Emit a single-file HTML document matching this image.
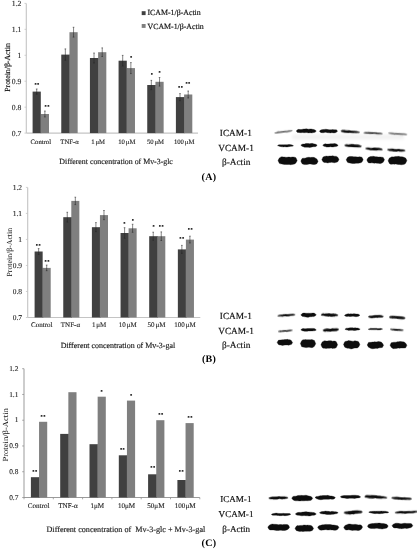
<!DOCTYPE html>
<html><head><meta charset="utf-8"><title>Figure</title>
<style>html,body{margin:0;padding:0;background:#fff}svg{display:block}text{text-rendering:geometricPrecision}.b{stroke:#111;stroke-width:.16px}</style></head>
<body>
<svg width="417" height="550" viewBox="0 0 417 550">
<defs>
<filter id="b2" x="-20%" y="-100%" width="140%" height="300%"><feGaussianBlur stdDeviation="0.3"/></filter>
<filter id="haze" x="-10%" y="-100%" width="120%" height="300%"><feGaussianBlur stdDeviation="1.6"/></filter>
<filter id="soft" x="0" y="0" width="100%" height="100%"><feGaussianBlur stdDeviation="0.3"/></filter>
</defs>
<rect width="417" height="550" fill="#fff"/>
<g filter="url(#soft)">
<line x1="26.3" y1="3.4" x2="26.3" y2="133.1" stroke="#c4c4c4" stroke-width="1.1"/>
<line x1="26.3" y1="133.1" x2="198" y2="133.1" stroke="#c4c4c4" stroke-width="1.1"/>
<line x1="24.5" y1="3.40" x2="26.3" y2="3.40" stroke="#c4c4c4" stroke-width="0.8"/>
<text x="21.40" y="5.90" font-size="7.7" text-anchor="end" font-family="Liberation Serif, serif" fill="#222" stroke="#222" stroke-width="0.1">1.2</text>
<line x1="24.5" y1="29.34" x2="26.3" y2="29.34" stroke="#c4c4c4" stroke-width="0.8"/>
<text x="21.40" y="31.84" font-size="7.7" text-anchor="end" font-family="Liberation Serif, serif" fill="#222" stroke="#222" stroke-width="0.1">1.1</text>
<line x1="24.5" y1="55.28" x2="26.3" y2="55.28" stroke="#c4c4c4" stroke-width="0.8"/>
<text x="21.40" y="57.78" font-size="7.7" text-anchor="end" font-family="Liberation Serif, serif" fill="#222" stroke="#222" stroke-width="0.1">1</text>
<line x1="24.5" y1="81.22" x2="26.3" y2="81.22" stroke="#c4c4c4" stroke-width="0.8"/>
<text x="21.40" y="83.72" font-size="7.7" text-anchor="end" font-family="Liberation Serif, serif" fill="#222" stroke="#222" stroke-width="0.1">0.9</text>
<line x1="24.5" y1="107.16" x2="26.3" y2="107.16" stroke="#c4c4c4" stroke-width="0.8"/>
<text x="21.40" y="109.66" font-size="7.7" text-anchor="end" font-family="Liberation Serif, serif" fill="#222" stroke="#222" stroke-width="0.1">0.8</text>
<line x1="24.5" y1="133.10" x2="26.3" y2="133.10" stroke="#c4c4c4" stroke-width="0.8"/>
<text x="21.40" y="135.60" font-size="7.7" text-anchor="end" font-family="Liberation Serif, serif" fill="#222" stroke="#222" stroke-width="0.1">0.7</text>
<rect x="32.60" y="91.60" width="8.20" height="41.50" fill="#404040"/>
<rect x="40.60" y="114.00" width="0.9" height="19.10" fill="#404040"/>
<rect x="40.80" y="114.00" width="8.20" height="19.10" fill="#7f7f7f"/>
<path d="M36.70 89.00V94.20M35.90 89.00h1.6M35.90 94.20h1.6" stroke="#222" stroke-width="0.55" fill="none"/>
<path d="M44.90 111.00V117.00M44.10 111.00h1.6M44.10 117.00h1.6" stroke="#222" stroke-width="0.55" fill="none"/>
<text x="40.83" y="143.8" font-size="6.7" text-anchor="middle" word-spacing="-0.8" font-family="Liberation Serif, serif" fill="#222" stroke="#222" stroke-width="0.12">Control</text>
<rect x="61.26" y="54.60" width="8.20" height="78.50" fill="#404040"/>
<rect x="69.26" y="54.60" width="0.9" height="78.50" fill="#404040"/>
<rect x="69.46" y="32.20" width="8.20" height="100.90" fill="#7f7f7f"/>
<path d="M65.36 48.90V60.30M64.56 48.90h1.6M64.56 60.30h1.6" stroke="#222" stroke-width="0.55" fill="none"/>
<path d="M73.56 27.30V37.10M72.76 27.30h1.6M72.76 37.10h1.6" stroke="#222" stroke-width="0.55" fill="none"/>
<text x="69.49" y="143.8" font-size="6.7" text-anchor="middle" word-spacing="-0.8" font-family="Liberation Serif, serif" fill="#222" stroke="#222" stroke-width="0.12">TNF-α</text>
<rect x="89.92" y="58.00" width="8.20" height="75.10" fill="#404040"/>
<rect x="97.92" y="58.00" width="0.9" height="75.10" fill="#404040"/>
<rect x="98.12" y="52.20" width="8.20" height="80.90" fill="#7f7f7f"/>
<path d="M94.02 53.00V63.00M93.22 53.00h1.6M93.22 63.00h1.6" stroke="#222" stroke-width="0.55" fill="none"/>
<path d="M102.22 47.90V56.50M101.42 47.90h1.6M101.42 56.50h1.6" stroke="#222" stroke-width="0.55" fill="none"/>
<text x="98.15" y="143.8" font-size="6.7" text-anchor="middle" word-spacing="-0.8" font-family="Liberation Serif, serif" fill="#222" stroke="#222" stroke-width="0.12">1 μM</text>
<rect x="118.58" y="60.70" width="8.20" height="72.40" fill="#404040"/>
<rect x="126.58" y="68.10" width="0.9" height="65.00" fill="#404040"/>
<rect x="126.78" y="68.10" width="8.20" height="65.00" fill="#7f7f7f"/>
<path d="M122.68 55.40V66.00M121.88 55.40h1.6M121.88 66.00h1.6" stroke="#222" stroke-width="0.55" fill="none"/>
<path d="M130.88 62.60V73.60M130.08 62.60h1.6M130.08 73.60h1.6" stroke="#222" stroke-width="0.55" fill="none"/>
<text x="126.81" y="143.8" font-size="6.7" text-anchor="middle" word-spacing="-0.8" font-family="Liberation Serif, serif" fill="#222" stroke="#222" stroke-width="0.12">10 μM</text>
<rect x="147.24" y="85.00" width="8.20" height="48.10" fill="#404040"/>
<rect x="155.24" y="85.00" width="0.9" height="48.10" fill="#404040"/>
<rect x="155.44" y="81.80" width="8.20" height="51.30" fill="#7f7f7f"/>
<path d="M151.34 80.40V89.60M150.54 80.40h1.6M150.54 89.60h1.6" stroke="#222" stroke-width="0.55" fill="none"/>
<path d="M159.54 77.50V86.10M158.74 77.50h1.6M158.74 86.10h1.6" stroke="#222" stroke-width="0.55" fill="none"/>
<text x="155.47" y="143.8" font-size="6.7" text-anchor="middle" word-spacing="-0.8" font-family="Liberation Serif, serif" fill="#222" stroke="#222" stroke-width="0.12">50 μM</text>
<rect x="175.90" y="97.10" width="8.20" height="36.00" fill="#404040"/>
<rect x="183.90" y="97.10" width="0.9" height="36.00" fill="#404040"/>
<rect x="184.10" y="94.50" width="8.20" height="38.60" fill="#7f7f7f"/>
<path d="M180.00 93.60V100.60M179.20 93.60h1.6M179.20 100.60h1.6" stroke="#222" stroke-width="0.55" fill="none"/>
<path d="M188.20 91.00V98.00M187.40 91.00h1.6M187.40 98.00h1.6" stroke="#222" stroke-width="0.55" fill="none"/>
<text x="184.13" y="143.8" font-size="6.7" text-anchor="middle" word-spacing="-0.8" font-family="Liberation Serif, serif" fill="#222" stroke="#222" stroke-width="0.12">100 μM</text>
<text x="37.10" y="86.30" font-size="4.4" letter-spacing="0.5" text-anchor="middle" font-family="Liberation Serif, serif" fill="#000" stroke="#000" stroke-width="0.2">**</text>
<text x="47.20" y="107.90" font-size="4.4" letter-spacing="0.5" text-anchor="middle" font-family="Liberation Serif, serif" fill="#000" stroke="#000" stroke-width="0.2">**</text>
<text x="131.30" y="59.40" font-size="4.4" letter-spacing="0.5" text-anchor="middle" font-family="Liberation Serif, serif" fill="#000" stroke="#000" stroke-width="0.2">*</text>
<text x="152.20" y="76.30" font-size="4.4" letter-spacing="0.5" text-anchor="middle" font-family="Liberation Serif, serif" fill="#000" stroke="#000" stroke-width="0.2">*</text>
<text x="159.80" y="73.70" font-size="4.4" letter-spacing="0.5" text-anchor="middle" font-family="Liberation Serif, serif" fill="#000" stroke="#000" stroke-width="0.2">*</text>
<text x="180.70" y="88.90" font-size="4.4" letter-spacing="0.5" text-anchor="middle" font-family="Liberation Serif, serif" fill="#000" stroke="#000" stroke-width="0.2">**</text>
<text x="188.10" y="84.90" font-size="4.4" letter-spacing="0.5" text-anchor="middle" font-family="Liberation Serif, serif" fill="#000" stroke="#000" stroke-width="0.2">**</text>
<text x="59.3" y="164" font-size="7.86" font-family="Liberation Serif, serif" fill="#1a1a1a" stroke="#1a1a1a" stroke-width="0.15" xml:space="preserve">Different concentration of Mv-3-glc</text>
<text transform="translate(10.4 67.5) rotate(-90)" font-size="7.8" text-anchor="middle" class="b"  font-family="Liberation Serif, serif" fill="#111">Protein/β-Actin</text>
<rect x="141.7" y="11.2" width="3.9" height="3.9" fill="#404040"/>
<text x="147.5" y="15.3" font-size="7.85" class="b" font-family="Liberation Serif, serif" fill="#111">ICAM-1/β-Actin</text>
<rect x="141.7" y="24" width="3.9" height="3.9" fill="#7f7f7f"/>
<text x="147.5" y="28.5" font-size="7.85" class="b" font-family="Liberation Serif, serif" fill="#111">VCAM-1/β-Actin</text>
<line x1="27.7" y1="187.4" x2="27.7" y2="317.5" stroke="#c4c4c4" stroke-width="1.1"/>
<line x1="27.7" y1="317.5" x2="200.3" y2="317.5" stroke="#c4c4c4" stroke-width="1.1"/>
<line x1="25.9" y1="187.40" x2="27.7" y2="187.40" stroke="#c4c4c4" stroke-width="0.8"/>
<text x="22.10" y="189.80" font-size="7.5" text-anchor="end" font-family="Liberation Serif, serif" fill="#222" stroke="#222" stroke-width="0.1">1.2</text>
<line x1="25.9" y1="213.42" x2="27.7" y2="213.42" stroke="#c4c4c4" stroke-width="0.8"/>
<text x="22.10" y="215.82" font-size="7.5" text-anchor="end" font-family="Liberation Serif, serif" fill="#222" stroke="#222" stroke-width="0.1">1.1</text>
<line x1="25.9" y1="239.44" x2="27.7" y2="239.44" stroke="#c4c4c4" stroke-width="0.8"/>
<text x="22.10" y="241.84" font-size="7.5" text-anchor="end" font-family="Liberation Serif, serif" fill="#222" stroke="#222" stroke-width="0.1">1</text>
<line x1="25.9" y1="265.46" x2="27.7" y2="265.46" stroke="#c4c4c4" stroke-width="0.8"/>
<text x="22.10" y="267.86" font-size="7.5" text-anchor="end" font-family="Liberation Serif, serif" fill="#222" stroke="#222" stroke-width="0.1">0.9</text>
<line x1="25.9" y1="291.48" x2="27.7" y2="291.48" stroke="#c4c4c4" stroke-width="0.8"/>
<text x="22.10" y="293.88" font-size="7.5" text-anchor="end" font-family="Liberation Serif, serif" fill="#222" stroke="#222" stroke-width="0.1">0.8</text>
<line x1="25.9" y1="317.50" x2="27.7" y2="317.50" stroke="#c4c4c4" stroke-width="0.8"/>
<text x="22.10" y="319.90" font-size="7.5" text-anchor="end" font-family="Liberation Serif, serif" fill="#222" stroke="#222" stroke-width="0.1">0.7</text>
<rect x="34.60" y="251.50" width="8.05" height="66.00" fill="#404040"/>
<rect x="42.45" y="267.90" width="0.9" height="49.60" fill="#404040"/>
<rect x="42.65" y="267.90" width="8.05" height="49.60" fill="#7f7f7f"/>
<path d="M38.62 248.60V254.40M37.83 248.60h1.6M37.83 254.40h1.6" stroke="#222" stroke-width="0.55" fill="none"/>
<path d="M46.68 265.10V270.70M45.88 265.10h1.6M45.88 270.70h1.6" stroke="#222" stroke-width="0.55" fill="none"/>
<text x="41.82" y="326.8" font-size="7.0" text-anchor="middle" word-spacing="-0.8" font-family="Liberation Serif, serif" fill="#222" stroke="#222" stroke-width="0.12">Control</text>
<rect x="63.25" y="217.20" width="8.05" height="100.30" fill="#404040"/>
<rect x="71.10" y="217.20" width="0.9" height="100.30" fill="#404040"/>
<rect x="71.30" y="200.90" width="8.05" height="116.60" fill="#7f7f7f"/>
<path d="M67.28 212.30V222.10M66.48 212.30h1.6M66.48 222.10h1.6" stroke="#222" stroke-width="0.55" fill="none"/>
<path d="M75.33 197.20V204.60M74.53 197.20h1.6M74.53 204.60h1.6" stroke="#222" stroke-width="0.55" fill="none"/>
<text x="70.47" y="326.8" font-size="7.0" text-anchor="middle" word-spacing="-0.8" font-family="Liberation Serif, serif" fill="#222" stroke="#222" stroke-width="0.12">TNF-α</text>
<rect x="91.90" y="227.20" width="8.05" height="90.30" fill="#404040"/>
<rect x="99.75" y="227.20" width="0.9" height="90.30" fill="#404040"/>
<rect x="99.95" y="215.10" width="8.05" height="102.40" fill="#7f7f7f"/>
<path d="M95.92 222.60V231.80M95.12 222.60h1.6M95.12 231.80h1.6" stroke="#222" stroke-width="0.55" fill="none"/>
<path d="M103.97 210.50V219.70M103.17 210.50h1.6M103.17 219.70h1.6" stroke="#222" stroke-width="0.55" fill="none"/>
<text x="99.12" y="326.8" font-size="7.0" text-anchor="middle" word-spacing="-0.8" font-family="Liberation Serif, serif" fill="#222" stroke="#222" stroke-width="0.12">1 μM</text>
<rect x="120.55" y="233.00" width="8.05" height="84.50" fill="#404040"/>
<rect x="128.40" y="233.00" width="0.9" height="84.50" fill="#404040"/>
<rect x="128.60" y="228.30" width="8.05" height="89.20" fill="#7f7f7f"/>
<path d="M124.58 227.70V238.30M123.78 227.70h1.6M123.78 238.30h1.6" stroke="#222" stroke-width="0.55" fill="none"/>
<path d="M132.62 224.30V232.30M131.82 224.30h1.6M131.82 232.30h1.6" stroke="#222" stroke-width="0.55" fill="none"/>
<text x="127.77" y="326.8" font-size="7.0" text-anchor="middle" word-spacing="-0.8" font-family="Liberation Serif, serif" fill="#222" stroke="#222" stroke-width="0.12">10 μM</text>
<rect x="149.20" y="236.20" width="8.05" height="81.30" fill="#404040"/>
<rect x="157.05" y="236.20" width="0.9" height="81.30" fill="#404040"/>
<rect x="157.25" y="236.20" width="8.05" height="81.30" fill="#7f7f7f"/>
<path d="M153.22 232.20V240.20M152.42 232.20h1.6M152.42 240.20h1.6" stroke="#222" stroke-width="0.55" fill="none"/>
<path d="M161.27 231.90V240.50M160.47 231.90h1.6M160.47 240.50h1.6" stroke="#222" stroke-width="0.55" fill="none"/>
<text x="156.42" y="326.8" font-size="7.0" text-anchor="middle" word-spacing="-0.8" font-family="Liberation Serif, serif" fill="#222" stroke="#222" stroke-width="0.12">50 μM</text>
<rect x="177.85" y="249.40" width="8.05" height="68.10" fill="#404040"/>
<rect x="185.70" y="249.40" width="0.9" height="68.10" fill="#404040"/>
<rect x="185.90" y="239.60" width="8.05" height="77.90" fill="#7f7f7f"/>
<path d="M181.88 245.40V253.40M181.07 245.40h1.6M181.07 253.40h1.6" stroke="#222" stroke-width="0.55" fill="none"/>
<path d="M189.92 236.20V243.00M189.12 236.20h1.6M189.12 243.00h1.6" stroke="#222" stroke-width="0.55" fill="none"/>
<text x="185.07" y="326.8" font-size="7.0" text-anchor="middle" word-spacing="-0.8" font-family="Liberation Serif, serif" fill="#222" stroke="#222" stroke-width="0.12">100 μM</text>
<text x="38.50" y="246.90" font-size="4.4" letter-spacing="0.5" text-anchor="middle" font-family="Liberation Serif, serif" fill="#000" stroke="#000" stroke-width="0.2">**</text>
<text x="47.20" y="262.70" font-size="4.4" letter-spacing="0.5" text-anchor="middle" font-family="Liberation Serif, serif" fill="#000" stroke="#000" stroke-width="0.2">**</text>
<text x="124.70" y="224.90" font-size="4.4" letter-spacing="0.5" text-anchor="middle" font-family="Liberation Serif, serif" fill="#000" stroke="#000" stroke-width="0.2">*</text>
<text x="133.20" y="221.80" font-size="4.4" letter-spacing="0.5" text-anchor="middle" font-family="Liberation Serif, serif" fill="#000" stroke="#000" stroke-width="0.2">*</text>
<text x="153.80" y="227.60" font-size="4.4" letter-spacing="0.5" text-anchor="middle" font-family="Liberation Serif, serif" fill="#000" stroke="#000" stroke-width="0.2">*</text>
<text x="161.40" y="227.60" font-size="4.4" letter-spacing="0.5" text-anchor="middle" font-family="Liberation Serif, serif" fill="#000" stroke="#000" stroke-width="0.2">**</text>
<text x="182.00" y="239.70" font-size="4.4" letter-spacing="0.5" text-anchor="middle" font-family="Liberation Serif, serif" fill="#000" stroke="#000" stroke-width="0.2">**</text>
<text x="190.40" y="231.00" font-size="4.4" letter-spacing="0.5" text-anchor="middle" font-family="Liberation Serif, serif" fill="#000" stroke="#000" stroke-width="0.2">**</text>
<text x="60.7" y="348.3" font-size="7.93" font-family="Liberation Serif, serif" fill="#1a1a1a" stroke="#1a1a1a" stroke-width="0.15" xml:space="preserve">Different concentration of Mv-3-gal</text>
<text transform="translate(11.5 252.2) rotate(-90)" font-size="7.8" text-anchor="middle"   font-family="Liberation Serif, serif" fill="#111">Protein/β-Actin</text>
<line x1="24" y1="368.7" x2="24" y2="497.5" stroke="#909090" stroke-width="0.9"/>
<line x1="24" y1="497.5" x2="199.8" y2="497.5" stroke="#909090" stroke-width="0.9"/>
<line x1="22.2" y1="368.70" x2="24" y2="368.70" stroke="#909090" stroke-width="0.8"/>
<text x="18.40" y="370.80" font-size="7.4" text-anchor="end" font-family="Liberation Serif, serif" fill="#222" stroke="#222" stroke-width="0.1">1.2</text>
<line x1="22.2" y1="394.46" x2="24" y2="394.46" stroke="#909090" stroke-width="0.8"/>
<text x="18.40" y="396.56" font-size="7.4" text-anchor="end" font-family="Liberation Serif, serif" fill="#222" stroke="#222" stroke-width="0.1">1.1</text>
<line x1="22.2" y1="420.22" x2="24" y2="420.22" stroke="#909090" stroke-width="0.8"/>
<text x="18.40" y="422.32" font-size="7.4" text-anchor="end" font-family="Liberation Serif, serif" fill="#222" stroke="#222" stroke-width="0.1">1</text>
<line x1="22.2" y1="445.98" x2="24" y2="445.98" stroke="#909090" stroke-width="0.8"/>
<text x="18.40" y="448.08" font-size="7.4" text-anchor="end" font-family="Liberation Serif, serif" fill="#222" stroke="#222" stroke-width="0.1">0.9</text>
<line x1="22.2" y1="471.74" x2="24" y2="471.74" stroke="#909090" stroke-width="0.8"/>
<text x="18.40" y="473.84" font-size="7.4" text-anchor="end" font-family="Liberation Serif, serif" fill="#222" stroke="#222" stroke-width="0.1">0.8</text>
<line x1="22.2" y1="497.50" x2="24" y2="497.50" stroke="#909090" stroke-width="0.8"/>
<text x="18.40" y="499.60" font-size="7.4" text-anchor="end" font-family="Liberation Serif, serif" fill="#222" stroke="#222" stroke-width="0.1">0.7</text>
<line x1="24.00" y1="497.5" x2="24.00" y2="499.3" stroke="#909090" stroke-width="0.8"/>
<line x1="53.30" y1="497.5" x2="53.30" y2="499.3" stroke="#909090" stroke-width="0.8"/>
<line x1="82.60" y1="497.5" x2="82.60" y2="499.3" stroke="#909090" stroke-width="0.8"/>
<line x1="111.90" y1="497.5" x2="111.90" y2="499.3" stroke="#909090" stroke-width="0.8"/>
<line x1="141.20" y1="497.5" x2="141.20" y2="499.3" stroke="#909090" stroke-width="0.8"/>
<line x1="170.50" y1="497.5" x2="170.50" y2="499.3" stroke="#909090" stroke-width="0.8"/>
<line x1="199.80" y1="497.5" x2="199.80" y2="499.3" stroke="#909090" stroke-width="0.8"/>
<rect x="30.90" y="477.20" width="8.15" height="20.30" fill="#404040"/>
<rect x="38.85" y="477.20" width="0.9" height="20.30" fill="#404040"/>
<rect x="39.05" y="421.80" width="8.15" height="75.70" fill="#7f7f7f"/>
<text x="38.65" y="507.7" font-size="7.1" text-anchor="middle" word-spacing="-0.8" font-family="Liberation Serif, serif" fill="#222" stroke="#222" stroke-width="0.12">Control</text>
<rect x="60.20" y="433.90" width="8.15" height="63.60" fill="#404040"/>
<rect x="68.15" y="433.90" width="0.9" height="63.60" fill="#404040"/>
<rect x="68.35" y="392.20" width="8.15" height="105.30" fill="#7f7f7f"/>
<text x="67.95" y="507.7" font-size="7.1" text-anchor="middle" word-spacing="-0.8" font-family="Liberation Serif, serif" fill="#222" stroke="#222" stroke-width="0.12">TNF-α</text>
<rect x="89.50" y="444.20" width="8.15" height="53.30" fill="#404040"/>
<rect x="97.45" y="444.20" width="0.9" height="53.30" fill="#404040"/>
<rect x="97.65" y="396.70" width="8.15" height="100.80" fill="#7f7f7f"/>
<text x="97.25" y="507.7" font-size="7.1" text-anchor="middle" word-spacing="-0.8" font-family="Liberation Serif, serif" fill="#222" stroke="#222" stroke-width="0.12">1μM</text>
<rect x="118.80" y="455.30" width="8.15" height="42.20" fill="#404040"/>
<rect x="126.75" y="455.30" width="0.9" height="42.20" fill="#404040"/>
<rect x="126.95" y="400.60" width="8.15" height="96.90" fill="#7f7f7f"/>
<text x="126.55" y="507.7" font-size="7.1" text-anchor="middle" word-spacing="-0.8" font-family="Liberation Serif, serif" fill="#222" stroke="#222" stroke-width="0.12">10μM</text>
<rect x="148.10" y="474.30" width="8.15" height="23.20" fill="#404040"/>
<rect x="156.05" y="474.30" width="0.9" height="23.20" fill="#404040"/>
<rect x="156.25" y="420.20" width="8.15" height="77.30" fill="#7f7f7f"/>
<text x="155.85" y="507.7" font-size="7.1" text-anchor="middle" word-spacing="-0.8" font-family="Liberation Serif, serif" fill="#222" stroke="#222" stroke-width="0.12">50μM</text>
<rect x="177.40" y="480.00" width="8.15" height="17.50" fill="#404040"/>
<rect x="185.35" y="480.00" width="0.9" height="17.50" fill="#404040"/>
<rect x="185.55" y="423.10" width="8.15" height="74.40" fill="#7f7f7f"/>
<text x="185.15" y="507.7" font-size="7.1" text-anchor="middle" word-spacing="-0.8" font-family="Liberation Serif, serif" fill="#222" stroke="#222" stroke-width="0.12">100μM</text>
<text x="35.00" y="473.00" font-size="4.4" letter-spacing="0.5" text-anchor="middle" font-family="Liberation Serif, serif" fill="#000" stroke="#000" stroke-width="0.2">**</text>
<text x="43.20" y="418.10" font-size="4.4" letter-spacing="0.5" text-anchor="middle" font-family="Liberation Serif, serif" fill="#000" stroke="#000" stroke-width="0.2">**</text>
<text x="101.80" y="393.00" font-size="4.4" letter-spacing="0.5" text-anchor="middle" font-family="Liberation Serif, serif" fill="#000" stroke="#000" stroke-width="0.2">*</text>
<text x="122.60" y="451.10" font-size="4.4" letter-spacing="0.5" text-anchor="middle" font-family="Liberation Serif, serif" fill="#000" stroke="#000" stroke-width="0.2">**</text>
<text x="131.30" y="396.50" font-size="4.4" letter-spacing="0.5" text-anchor="middle" font-family="Liberation Serif, serif" fill="#000" stroke="#000" stroke-width="0.2">*</text>
<text x="153.00" y="468.50" font-size="4.4" letter-spacing="0.5" text-anchor="middle" font-family="Liberation Serif, serif" fill="#000" stroke="#000" stroke-width="0.2">**</text>
<text x="160.90" y="416.30" font-size="4.4" letter-spacing="0.5" text-anchor="middle" font-family="Liberation Serif, serif" fill="#000" stroke="#000" stroke-width="0.2">**</text>
<text x="181.50" y="473.00" font-size="4.4" letter-spacing="0.5" text-anchor="middle" font-family="Liberation Serif, serif" fill="#000" stroke="#000" stroke-width="0.2">**</text>
<text x="190.20" y="419.40" font-size="4.4" letter-spacing="0.5" text-anchor="middle" font-family="Liberation Serif, serif" fill="#000" stroke="#000" stroke-width="0.2">**</text>
<text x="46.5" y="532.0" font-size="8.13" font-family="Liberation Serif, serif" fill="#1a1a1a" stroke="#1a1a1a" stroke-width="0.15" xml:space="preserve">Different concentration of  Mv-3-glc + Mv-3-gal</text>
<text transform="translate(7.5 434.9) rotate(-90)" font-size="7.8" text-anchor="middle"  textLength="53.4" lengthAdjust="spacingAndGlyphs" font-family="Liberation Serif, serif" fill="#111">Protein/β-Actin</text>
<text x="201.6" y="179.9" font-size="10" font-weight="bold" letter-spacing="0.3" font-family="Liberation Serif, serif" fill="#000">(A)</text>
<text x="201.9" y="361.9" font-size="10" font-weight="bold" letter-spacing="0.3" font-family="Liberation Serif, serif" fill="#000">(B)</text>
<text x="201.6" y="546.1" font-size="10" font-weight="bold" letter-spacing="0.3" font-family="Liberation Serif, serif" fill="#000">(C)</text>
<text x="235.8" y="136.0" font-size="9.3" text-anchor="middle" class="b" font-family="Liberation Serif, serif" fill="#111">ICAM-1</text>
<text x="236" y="150.7" font-size="9.3" text-anchor="middle" class="b" font-family="Liberation Serif, serif" fill="#111">VCAM-1</text>
<text x="236.2" y="165.3" font-size="9.3" text-anchor="middle" class="b" font-family="Liberation Serif, serif" fill="#111">β-Actin</text>
<text x="235.8" y="319" font-size="9.3" text-anchor="middle" class="b" font-family="Liberation Serif, serif" fill="#111">ICAM-1</text>
<text x="236" y="333.5" font-size="9.3" text-anchor="middle" class="b" font-family="Liberation Serif, serif" fill="#111">VCAM-1</text>
<text x="236.2" y="348.2" font-size="9.3" text-anchor="middle" class="b" font-family="Liberation Serif, serif" fill="#111">β-Actin</text>
<text x="235.8" y="502.1" font-size="9.1" text-anchor="middle" class="b" font-family="Liberation Serif, serif" fill="#111">ICAM-1</text>
<text x="236" y="517.3" font-size="9.1" text-anchor="middle" class="b" font-family="Liberation Serif, serif" fill="#111">VCAM-1</text>
<text x="236.2" y="531.5" font-size="9.1" text-anchor="middle" class="b" font-family="Liberation Serif, serif" fill="#111">β-Actin</text>
<rect x="292" y="134.5" width="112" height="5" fill="#000" opacity="0.05" filter="url(#haze)"/>
<path d="M274.40 131.92 L275.61 131.42 L276.83 131.16 L278.04 130.84 L279.25 130.91 L280.47 131.06 L281.68 131.01 L282.89 131.05 L284.11 130.97 L285.32 130.96 L286.53 131.22 L287.75 131.22 L288.96 131.09 L290.17 131.13 L291.39 131.17 L292.60 131.74 L292.60 131.74 L291.39 132.24 L290.17 132.48 L288.96 132.57 L287.75 132.72 L286.53 132.73 L285.32 132.56 L284.11 132.53 L282.89 132.48 L281.68 132.47 L280.47 132.57 L279.25 132.49 L278.04 132.42 L276.83 132.48 L275.61 132.38 L274.40 131.92Z" fill="#707070" opacity="1" stroke="#707070" stroke-width="0.3" stroke-linejoin="round" transform="rotate(-7 283.5 131.8)" filter="url(#b2)"/>
<path d="M296.20 130.99 L297.46 129.68 L298.71 129.36 L299.97 129.49 L301.23 129.61 L302.48 129.25 L303.74 129.00 L304.99 128.94 L306.25 128.84 L307.51 129.03 L308.76 129.18 L310.02 128.96 L311.27 128.98 L312.53 129.30 L313.79 129.52 L315.04 129.94 L316.30 131.11 L316.30 131.11 L315.04 132.33 L313.79 132.51 L312.53 132.83 L311.27 132.88 L310.02 132.78 L308.76 132.88 L307.51 132.76 L306.25 132.59 L304.99 132.75 L303.74 132.73 L302.48 132.58 L301.23 132.71 L299.97 132.67 L298.71 132.51 L297.46 132.41 L296.20 130.99Z" fill="#0a0a0a" opacity="1" stroke="#0a0a0a" stroke-width="0.3" stroke-linejoin="round" transform="rotate(0 306.2 130.9)" filter="url(#b2)"/>
<path d="M319.40 131.16 L320.61 129.95 L321.83 129.68 L323.04 129.54 L324.25 129.38 L325.47 129.21 L326.68 129.33 L327.89 129.60 L329.11 129.74 L330.32 129.77 L331.53 129.68 L332.75 129.62 L333.96 129.75 L335.17 129.80 L336.39 129.86 L337.60 130.99 L337.60 130.99 L336.39 132.36 L335.17 132.75 L333.96 132.96 L332.75 132.78 L331.53 132.78 L330.32 132.96 L329.11 132.83 L327.89 132.72 L326.68 132.56 L325.47 132.37 L324.25 132.62 L323.04 132.79 L321.83 132.63 L320.61 132.44 L319.40 131.16Z" fill="#0a0a0a" opacity="1" stroke="#0a0a0a" stroke-width="0.3" stroke-linejoin="round" transform="rotate(0 328.5 131.1)" filter="url(#b2)"/>
<path d="M340.70 131.69 L341.98 130.69 L343.26 130.42 L344.54 130.49 L345.82 130.66 L347.10 130.63 L348.38 130.53 L349.66 130.53 L350.94 130.63 L352.22 130.78 L353.50 130.79 L354.78 130.66 L356.06 130.71 L357.34 130.90 L358.62 131.20 L359.90 131.74 L359.90 131.74 L358.62 132.14 L357.34 132.26 L356.06 132.46 L354.78 132.56 L353.50 132.66 L352.22 132.82 L350.94 132.81 L349.66 132.84 L348.38 132.94 L347.10 132.91 L345.82 132.95 L344.54 132.94 L343.26 132.71 L341.98 132.51 L340.70 131.69Z" fill="#111" opacity="1" stroke="#111" stroke-width="0.3" stroke-linejoin="round" transform="rotate(4 350.3 131.7)" filter="url(#b2)"/>
<path d="M363.50 133.32 L364.78 132.73 L366.06 132.57 L367.34 132.42 L368.62 132.20 L369.90 132.31 L371.18 132.35 L372.46 132.24 L373.74 132.30 L375.02 132.23 L376.30 132.25 L377.58 132.50 L378.86 132.48 L380.14 132.48 L381.42 132.69 L382.70 133.17 L382.70 133.17 L381.42 133.70 L380.14 133.80 L378.86 133.95 L377.58 134.11 L376.30 133.97 L375.02 133.81 L373.74 133.84 L372.46 133.90 L371.18 134.07 L369.90 134.11 L368.62 133.91 L367.34 133.89 L366.06 133.91 L364.78 133.78 L363.50 133.32Z" fill="#4a4a4a" opacity="1" stroke="#4a4a4a" stroke-width="0.3" stroke-linejoin="round" transform="rotate(3 373.1 133.2)" filter="url(#b2)"/>
<path d="M388.10 133.86 L389.38 133.22 L390.66 133.12 L391.94 132.99 L393.22 133.10 L394.50 133.25 L395.78 133.10 L397.06 133.08 L398.34 133.05 L399.62 132.93 L400.90 133.05 L402.18 133.00 L403.46 132.88 L404.74 133.08 L406.02 133.31 L407.30 133.90 L407.30 133.90 L406.02 134.41 L404.74 134.49 L403.46 134.57 L402.18 134.78 L400.90 134.81 L399.62 134.77 L398.34 134.79 L397.06 134.78 L395.78 134.87 L394.50 134.93 L393.22 134.77 L391.94 134.63 L390.66 134.53 L389.38 134.33 L388.10 133.86Z" fill="#808080" opacity="1" stroke="#808080" stroke-width="0.3" stroke-linejoin="round" transform="rotate(4 397.7 133.9)" filter="url(#b2)"/>
<path d="M277.50 145.68 L278.73 144.85 L279.96 144.83 L281.19 144.86 L282.42 144.77 L283.65 144.80 L284.88 144.66 L286.12 144.72 L287.35 144.64 L288.58 144.51 L289.81 144.61 L291.04 144.69 L292.27 145.09 L293.50 145.72 L293.50 145.72 L292.27 146.37 L291.04 146.25 L289.81 146.47 L288.58 146.71 L287.35 146.90 L286.12 146.96 L284.88 146.73 L283.65 146.90 L282.42 146.85 L281.19 146.67 L279.96 146.39 L278.73 146.06 L277.50 145.68Z" fill="#0a0a0a" opacity="1" stroke="#0a0a0a" stroke-width="0.3" stroke-linejoin="round" transform="rotate(0 285.5 145.7)" filter="url(#b2)"/>
<path d="M300.80 145.22 L302.06 144.16 L303.32 144.06 L304.58 143.91 L305.85 143.43 L307.11 143.47 L308.37 143.50 L309.63 143.64 L310.89 143.54 L312.15 143.34 L313.42 143.75 L314.68 144.00 L315.94 144.37 L317.20 145.35 L317.20 145.35 L315.94 146.50 L314.68 146.70 L313.42 146.75 L312.15 146.90 L310.89 147.31 L309.63 147.38 L308.37 147.29 L307.11 147.17 L305.85 147.15 L304.58 147.15 L303.32 146.72 L302.06 146.24 L300.80 145.22Z" fill="#0a0a0a" opacity="1" stroke="#0a0a0a" stroke-width="0.3" stroke-linejoin="round" transform="rotate(0 309.0 145.3)" filter="url(#b2)"/>
<path d="M322.70 145.31 L323.99 144.14 L325.28 143.85 L326.57 144.07 L327.87 144.08 L329.16 143.88 L330.45 143.78 L331.74 143.76 L333.03 143.77 L334.32 143.55 L335.62 143.76 L336.91 144.24 L338.20 145.48 L338.20 145.48 L336.91 146.36 L335.62 146.62 L334.32 146.73 L333.03 147.03 L331.74 146.89 L330.45 146.76 L329.16 146.92 L327.87 147.05 L326.57 147.05 L325.28 146.57 L323.99 146.37 L322.70 145.31Z" fill="#0a0a0a" opacity="1" stroke="#0a0a0a" stroke-width="0.3" stroke-linejoin="round" transform="rotate(0 330.4 145.4)" filter="url(#b2)"/>
<path d="M344.40 145.85 L345.64 145.00 L346.87 144.76 L348.11 144.88 L349.34 144.63 L350.58 144.38 L351.81 144.24 L353.05 144.17 L354.29 144.47 L355.52 144.46 L356.76 144.39 L357.99 144.62 L359.23 144.81 L360.46 145.21 L361.70 145.86 L361.70 145.86 L360.46 146.65 L359.23 146.86 L357.99 146.88 L356.76 146.90 L355.52 147.04 L354.29 147.12 L353.05 147.08 L351.81 146.98 L350.58 146.95 L349.34 147.04 L348.11 147.03 L346.87 146.81 L345.64 146.52 L344.40 145.85Z" fill="#0a0a0a" opacity="1" stroke="#0a0a0a" stroke-width="0.3" stroke-linejoin="round" transform="rotate(3 353.0 145.8)" filter="url(#b2)"/>
<path d="M365.30 148.95 L366.54 148.28 L367.79 148.01 L369.03 148.01 L370.27 148.16 L371.51 148.13 L372.76 147.97 L374.00 147.73 L375.24 147.67 L376.49 147.80 L377.73 147.80 L378.97 147.80 L380.21 147.95 L381.46 148.31 L382.70 149.16 L382.70 149.16 L381.46 149.73 L380.21 149.83 L378.97 149.78 L377.73 150.03 L376.49 150.16 L375.24 150.16 L374.00 150.22 L372.76 150.14 L371.51 150.28 L370.27 150.31 L369.03 150.04 L367.79 149.85 L366.54 149.58 L365.30 148.95Z" fill="#0a0a0a" opacity="1" stroke="#0a0a0a" stroke-width="0.3" stroke-linejoin="round" transform="rotate(3 374.0 149.0)" filter="url(#b2)"/>
<path d="M387.20 150.09 L388.41 149.51 L389.63 149.39 L390.84 149.16 L392.05 148.95 L393.27 149.08 L394.48 149.22 L395.69 149.20 L396.91 149.13 L398.12 148.94 L399.33 148.94 L400.55 149.17 L401.76 149.22 L402.97 149.27 L404.19 149.45 L405.40 150.18 L405.40 150.18 L404.19 150.79 L402.97 151.05 L401.76 151.13 L400.55 151.23 L399.33 151.19 L398.12 151.12 L396.91 151.40 L395.69 151.59 L394.48 151.56 L393.27 151.50 L392.05 151.26 L390.84 151.15 L389.63 151.18 L388.41 150.84 L387.20 150.09Z" fill="#0a0a0a" opacity="1" stroke="#0a0a0a" stroke-width="0.3" stroke-linejoin="round" transform="rotate(3 396.3 150.2)" filter="url(#b2)"/>
<path d="M278.00 160.50 L279.28 158.09 L280.56 157.13 L281.84 156.66 L283.12 156.94 L284.40 157.00 L285.68 157.16 L286.96 157.34 L288.24 157.03 L289.52 157.12 L290.80 157.28 L292.08 156.96 L293.36 157.01 L294.64 157.16 L295.92 157.66 L297.20 160.62 L297.20 160.62 L295.92 162.99 L294.64 163.90 L293.36 164.24 L292.08 164.45 L290.80 164.75 L289.52 164.51 L288.24 164.43 L286.96 164.59 L285.68 164.39 L284.40 164.41 L283.12 164.34 L281.84 163.93 L280.56 163.85 L279.28 163.34 L278.00 160.50Z" fill="#0a0a0a" opacity="1" stroke="#0a0a0a" stroke-width="0.3" stroke-linejoin="round" transform="rotate(0 287.6 160.7)" filter="url(#b2)"/>
<path d="M300.80 161.11 L302.04 158.53 L303.27 158.21 L304.51 158.17 L305.74 157.93 L306.98 157.56 L308.21 157.26 L309.45 157.32 L310.69 157.42 L311.92 157.33 L313.16 157.32 L314.39 157.56 L315.63 158.18 L316.86 159.01 L318.10 161.25 L318.10 161.25 L316.86 163.72 L315.63 164.24 L314.39 164.48 L313.16 164.43 L311.92 164.34 L310.69 164.12 L309.45 164.04 L308.21 164.26 L306.98 164.41 L305.74 164.57 L304.51 164.55 L303.27 164.24 L302.04 163.66 L300.80 161.11Z" fill="#0a0a0a" opacity="1" stroke="#0a0a0a" stroke-width="0.3" stroke-linejoin="round" transform="rotate(0 309.5 161.0)" filter="url(#b2)"/>
<path d="M321.80 159.63 L323.03 157.05 L324.26 156.62 L325.49 156.19 L326.71 156.06 L327.94 156.31 L329.17 156.03 L330.40 155.99 L331.63 155.91 L332.86 155.78 L334.09 156.20 L335.31 156.21 L336.54 156.39 L337.77 157.15 L339.00 159.45 L339.00 159.45 L337.77 161.85 L336.54 162.23 L335.31 162.56 L334.09 162.84 L332.86 162.38 L331.63 162.29 L330.40 162.39 L329.17 162.55 L327.94 162.99 L326.71 162.71 L325.49 162.50 L324.26 162.48 L323.03 161.83 L321.80 159.63Z" fill="#0a0a0a" opacity="1" stroke="#0a0a0a" stroke-width="0.3" stroke-linejoin="round" transform="rotate(0 330.4 159.3)" filter="url(#b2)"/>
<path d="M346.20 159.76 L347.41 157.57 L348.63 156.83 L349.84 156.45 L351.06 156.44 L352.27 156.57 L353.49 156.73 L354.70 156.85 L355.91 156.86 L357.13 156.91 L358.34 156.90 L359.56 156.82 L360.77 156.91 L361.99 157.32 L363.20 159.75 L363.20 159.75 L361.99 162.07 L360.77 162.73 L359.56 162.97 L358.34 163.16 L357.13 163.18 L355.91 163.21 L354.70 163.43 L353.49 163.47 L352.27 163.43 L351.06 163.27 L349.84 162.98 L348.63 162.78 L347.41 162.21 L346.20 159.76Z" fill="#0a0a0a" opacity="1" stroke="#0a0a0a" stroke-width="0.3" stroke-linejoin="round" transform="rotate(0 354.7 159.9)" filter="url(#b2)"/>
<path d="M366.80 159.98 L368.06 157.74 L369.33 156.94 L370.59 156.56 L371.86 156.42 L373.12 156.26 L374.39 156.52 L375.65 156.75 L376.91 156.84 L378.18 157.02 L379.44 156.90 L380.71 156.97 L381.97 157.17 L383.24 157.43 L384.50 159.76 L384.50 159.76 L383.24 162.18 L381.97 162.98 L380.71 163.57 L379.44 163.47 L378.18 163.30 L376.91 163.18 L375.65 163.05 L374.39 163.22 L373.12 163.03 L371.86 162.87 L370.59 163.03 L369.33 162.93 L368.06 162.59 L366.80 159.98Z" fill="#0a0a0a" opacity="1" stroke="#0a0a0a" stroke-width="0.3" stroke-linejoin="round" transform="rotate(0 375.6 159.9)" filter="url(#b2)"/>
<path d="M388.10 160.69 L389.35 158.06 L390.61 157.40 L391.86 156.86 L393.11 156.88 L394.37 156.73 L395.62 156.40 L396.87 156.45 L398.13 156.33 L399.38 156.39 L400.63 156.81 L401.89 156.80 L403.14 156.94 L404.39 157.44 L405.65 158.00 L406.90 160.55 L406.90 160.55 L405.65 163.36 L404.39 164.22 L403.14 164.46 L401.89 164.82 L400.63 164.70 L399.38 164.39 L398.13 164.42 L396.87 164.15 L395.62 164.04 L394.37 164.25 L393.11 164.12 L391.86 164.17 L390.61 164.18 L389.35 163.40 L388.10 160.69Z" fill="#0a0a0a" opacity="1" stroke="#0a0a0a" stroke-width="0.3" stroke-linejoin="round" transform="rotate(0 397.5 160.6)" filter="url(#b2)"/>
<path d="M277.50 315.28 L278.77 314.69 L280.04 314.47 L281.31 314.54 L282.59 314.38 L283.86 314.20 L285.13 314.19 L286.40 314.23 L287.67 314.48 L288.94 314.51 L290.21 314.38 L291.49 314.48 L292.76 314.58 L294.03 314.77 L295.30 315.22 L295.30 315.22 L294.03 315.79 L292.76 315.97 L291.49 315.97 L290.21 316.06 L288.94 316.33 L287.67 316.33 L286.40 316.22 L285.13 316.08 L283.86 316.01 L282.59 316.15 L281.31 316.06 L280.04 315.84 L278.77 315.72 L277.50 315.28Z" fill="#0a0a0a" opacity="1" stroke="#0a0a0a" stroke-width="0.3" stroke-linejoin="round" transform="rotate(-4 286.4 315.2)" filter="url(#b2)"/>
<path d="M300.80 314.91 L302.09 313.57 L303.38 313.10 L304.68 313.08 L305.97 313.21 L307.26 313.28 L308.55 313.16 L309.84 313.26 L311.13 313.17 L312.43 313.12 L313.72 313.09 L315.01 313.50 L316.30 315.00 L316.30 315.00 L315.01 316.01 L313.72 316.62 L312.43 316.62 L311.13 316.74 L309.84 316.80 L308.55 317.20 L307.26 317.33 L305.97 316.99 L304.68 316.86 L303.38 316.53 L302.09 316.29 L300.80 314.91Z" fill="#0a0a0a" opacity="1" stroke="#0a0a0a" stroke-width="0.3" stroke-linejoin="round" transform="rotate(0 308.6 315.0)" filter="url(#b2)"/>
<path d="M320.90 315.13 L322.14 314.10 L323.37 313.80 L324.61 313.93 L325.84 313.74 L327.08 313.64 L328.31 313.58 L329.55 313.53 L330.79 313.81 L332.02 313.74 L333.26 313.62 L334.49 313.76 L335.73 313.85 L336.96 314.25 L338.20 315.00 L338.20 315.00 L336.96 315.71 L335.73 315.87 L334.49 316.26 L333.26 316.36 L332.02 316.50 L330.79 316.51 L329.55 316.33 L328.31 316.49 L327.08 316.37 L325.84 316.18 L324.61 316.10 L323.37 315.83 L322.14 315.78 L320.90 315.13Z" fill="#0a0a0a" opacity="1" stroke="#0a0a0a" stroke-width="0.3" stroke-linejoin="round" transform="rotate(2 329.5 315.0)" filter="url(#b2)"/>
<path d="M344.40 315.40 L345.69 314.38 L346.98 314.11 L348.27 313.77 L349.57 313.90 L350.86 313.87 L352.15 313.92 L353.44 313.79 L354.73 313.87 L356.02 314.06 L357.32 314.06 L358.61 314.32 L359.90 315.19 L359.90 315.19 L358.61 316.14 L357.32 316.44 L356.02 316.76 L354.73 316.47 L353.44 316.36 L352.15 316.30 L350.86 316.53 L349.57 316.50 L348.27 316.36 L346.98 316.46 L345.69 316.26 L344.40 315.40Z" fill="#0a0a0a" opacity="1" stroke="#0a0a0a" stroke-width="0.3" stroke-linejoin="round" transform="rotate(0 352.1 315.2)" filter="url(#b2)"/>
<path d="M368.10 316.67 L369.39 315.76 L370.68 315.63 L371.98 315.65 L373.27 315.49 L374.56 315.25 L375.85 315.13 L377.14 315.33 L378.43 315.31 L379.73 315.36 L381.02 315.51 L382.31 315.94 L383.60 316.72 L383.60 316.72 L382.31 317.48 L381.02 317.57 L379.73 317.60 L378.43 317.62 L377.14 317.75 L375.85 317.52 L374.56 317.69 L373.27 317.76 L371.98 317.93 L370.68 317.65 L369.39 317.34 L368.10 316.67Z" fill="#0a0a0a" opacity="1" stroke="#0a0a0a" stroke-width="0.3" stroke-linejoin="round" transform="rotate(-2 375.9 316.6)" filter="url(#b2)"/>
<path d="M389.00 317.70 L390.26 316.73 L391.52 316.56 L392.78 316.33 L394.05 316.34 L395.31 316.23 L396.57 316.17 L397.83 316.23 L399.09 316.16 L400.35 316.33 L401.62 316.37 L402.88 316.50 L404.14 316.80 L405.40 317.50 L405.40 317.50 L404.14 318.40 L402.88 318.63 L401.62 318.84 L400.35 318.80 L399.09 318.74 L397.83 318.64 L396.57 318.54 L395.31 318.61 L394.05 318.60 L392.78 318.67 L391.52 318.61 L390.26 318.39 L389.00 317.70Z" fill="#0a0a0a" opacity="1" stroke="#0a0a0a" stroke-width="0.3" stroke-linejoin="round" transform="rotate(4 397.2 317.5)" filter="url(#b2)"/>
<path d="M278.00 331.00 L279.22 330.40 L280.43 330.34 L281.65 330.40 L282.87 330.27 L284.08 330.22 L285.30 330.29 L286.52 330.47 L287.73 330.38 L288.95 330.28 L290.17 330.35 L291.38 330.54 L292.60 330.92 L292.60 330.92 L291.38 331.37 L290.17 331.41 L288.95 331.59 L287.73 331.69 L286.52 331.79 L285.30 331.51 L284.08 331.53 L282.87 331.54 L281.65 331.57 L280.43 331.40 L279.22 331.25 L278.00 331.00Z" fill="#1a1a1a" opacity="1" stroke="#1a1a1a" stroke-width="0.3" stroke-linejoin="round" transform="rotate(-5 285.3 331.0)" filter="url(#b2)"/>
<path d="M300.80 329.78 L302.09 328.80 L303.38 328.59 L304.68 328.63 L305.97 328.69 L307.26 328.62 L308.55 328.49 L309.84 328.48 L311.13 328.40 L312.43 328.38 L313.72 328.46 L315.01 328.86 L316.30 329.94 L316.30 329.94 L315.01 330.69 L313.72 330.84 L312.43 330.94 L311.13 330.94 L309.84 331.07 L308.55 330.97 L307.26 331.28 L305.97 331.29 L304.68 331.30 L303.38 330.97 L302.09 330.65 L300.80 329.78Z" fill="#0a0a0a" opacity="1" stroke="#0a0a0a" stroke-width="0.3" stroke-linejoin="round" transform="rotate(0 308.6 329.8)" filter="url(#b2)"/>
<path d="M322.70 329.98 L323.95 329.11 L325.21 328.80 L326.46 328.38 L327.72 328.60 L328.97 328.80 L330.22 328.89 L331.48 328.84 L332.73 328.62 L333.98 328.87 L335.24 328.82 L336.49 328.77 L337.75 328.91 L339.00 329.84 L339.00 329.84 L337.75 330.73 L336.49 331.16 L335.24 331.25 L333.98 331.31 L332.73 331.15 L331.48 331.37 L330.22 331.53 L328.97 331.37 L327.72 331.31 L326.46 331.10 L325.21 331.17 L323.95 330.89 L322.70 329.98Z" fill="#0a0a0a" opacity="1" stroke="#0a0a0a" stroke-width="0.3" stroke-linejoin="round" transform="rotate(-3 330.9 330.0)" filter="url(#b2)"/>
<path d="M344.90 329.30 L346.17 328.24 L347.45 328.13 L348.72 328.02 L350.00 327.87 L351.27 327.76 L352.55 327.71 L353.82 327.95 L355.10 327.81 L356.38 327.96 L357.65 328.02 L358.93 328.42 L360.20 329.14 L360.20 329.14 L358.93 329.97 L357.65 330.09 L356.38 330.20 L355.10 330.41 L353.82 330.45 L352.55 330.24 L351.27 330.26 L350.00 330.35 L348.72 330.39 L347.45 330.09 L346.17 329.85 L344.90 329.30Z" fill="#0a0a0a" opacity="1" stroke="#0a0a0a" stroke-width="0.3" stroke-linejoin="round" transform="rotate(0 352.5 329.1)" filter="url(#b2)"/>
<path d="M368.10 329.23 L369.32 328.63 L370.53 328.25 L371.75 328.28 L372.97 328.37 L374.18 328.29 L375.40 328.25 L376.62 328.29 L377.83 328.52 L379.05 328.41 L380.27 328.37 L381.48 328.47 L382.70 329.10 L382.70 329.10 L381.48 329.54 L380.27 329.89 L379.05 329.92 L377.83 330.01 L376.62 329.80 L375.40 329.83 L374.18 329.87 L372.97 329.81 L371.75 329.82 L370.53 329.69 L369.32 329.77 L368.10 329.23Z" fill="#222" opacity="1" stroke="#222" stroke-width="0.3" stroke-linejoin="round" transform="rotate(0 375.4 329.1)" filter="url(#b2)"/>
<path d="M390.00 329.67 L391.24 329.21 L392.47 329.30 L393.71 329.05 L394.95 328.97 L396.18 329.02 L397.42 329.08 L398.65 328.88 L399.89 328.90 L401.13 329.16 L402.36 329.35 L403.60 329.81 L403.60 329.81 L402.36 330.35 L401.13 330.40 L399.89 330.42 L398.65 330.55 L397.42 330.71 L396.18 330.66 L394.95 330.67 L393.71 330.60 L392.47 330.56 L391.24 330.21 L390.00 329.67Z" fill="#222" opacity="1" stroke="#222" stroke-width="0.3" stroke-linejoin="round" transform="rotate(4 396.8 329.8)" filter="url(#b2)"/>
<path d="M277.10 342.61 L278.39 340.30 L279.68 340.09 L280.98 339.90 L282.27 339.85 L283.56 339.73 L284.85 339.45 L286.14 339.57 L287.43 339.37 L288.73 339.69 L290.02 339.77 L291.31 340.53 L292.60 342.63 L292.60 342.63 L291.31 344.55 L290.02 344.76 L288.73 345.17 L287.43 344.97 L286.14 344.97 L284.85 345.04 L283.56 345.27 L282.27 345.41 L280.98 345.07 L279.68 345.03 L278.39 344.45 L277.10 342.61Z" fill="#0a0a0a" opacity="1" stroke="#0a0a0a" stroke-width="0.3" stroke-linejoin="round" transform="rotate(0 284.9 342.4)" filter="url(#b2)"/>
<path d="M300.40 343.46 L301.67 340.72 L302.95 339.80 L304.22 339.87 L305.50 339.61 L306.77 339.80 L308.05 339.63 L309.32 339.68 L310.60 339.73 L311.88 339.61 L313.15 340.02 L314.43 340.48 L315.70 343.71 L315.70 343.71 L314.43 346.35 L313.15 347.17 L311.88 347.65 L310.60 347.44 L309.32 347.34 L308.05 347.22 L306.77 347.62 L305.50 347.40 L304.22 347.25 L302.95 347.07 L301.67 346.67 L300.40 343.46Z" fill="#0a0a0a" opacity="1" stroke="#0a0a0a" stroke-width="0.3" stroke-linejoin="round" transform="rotate(0 308.0 343.6)" filter="url(#b2)"/>
<path d="M320.90 344.82 L322.18 342.00 L323.47 341.18 L324.75 340.67 L326.04 341.05 L327.32 341.07 L328.61 340.83 L329.89 340.70 L331.18 340.66 L332.46 341.16 L333.75 341.05 L335.03 341.08 L336.32 341.78 L337.60 344.64 L337.60 344.64 L336.32 347.45 L335.03 348.17 L333.75 348.30 L332.46 348.38 L331.18 347.96 L329.89 348.17 L328.61 348.27 L327.32 348.30 L326.04 348.45 L324.75 348.19 L323.47 348.27 L322.18 347.55 L320.90 344.82Z" fill="#0a0a0a" opacity="1" stroke="#0a0a0a" stroke-width="0.3" stroke-linejoin="round" transform="rotate(0 329.2 344.6)" filter="url(#b2)"/>
<path d="M343.50 344.39 L344.76 341.70 L346.02 341.18 L347.28 341.07 L348.55 340.54 L349.81 340.75 L351.07 340.88 L352.33 341.15 L353.59 341.13 L354.85 340.68 L356.12 341.03 L357.38 341.22 L358.64 341.86 L359.90 344.48 L359.90 344.48 L358.64 347.01 L357.38 347.88 L356.12 348.07 L354.85 347.99 L353.59 348.34 L352.33 348.65 L351.07 348.97 L349.81 348.58 L348.55 348.19 L347.28 348.17 L346.02 347.85 L344.76 347.16 L343.50 344.39Z" fill="#0a0a0a" opacity="1" stroke="#0a0a0a" stroke-width="0.3" stroke-linejoin="round" transform="rotate(0 351.7 344.6)" filter="url(#b2)"/>
<path d="M367.20 345.01 L368.46 342.42 L369.72 342.30 L370.98 342.36 L372.25 342.06 L373.51 341.99 L374.77 341.71 L376.03 341.96 L377.29 341.80 L378.55 341.47 L379.82 341.71 L381.08 342.02 L382.34 343.01 L383.60 345.24 L383.60 345.24 L382.34 347.49 L381.08 347.65 L379.82 347.81 L378.55 348.11 L377.29 348.45 L376.03 348.34 L374.77 348.40 L373.51 348.65 L372.25 348.76 L370.98 348.52 L369.72 347.77 L368.46 347.13 L367.20 345.01Z" fill="#0a0a0a" opacity="1" stroke="#0a0a0a" stroke-width="0.3" stroke-linejoin="round" transform="rotate(0 375.4 345.1)" filter="url(#b2)"/>
<path d="M390.00 345.18 L391.21 342.73 L392.41 342.52 L393.62 342.24 L394.83 342.14 L396.04 342.16 L397.24 341.74 L398.45 341.74 L399.66 341.61 L400.86 341.44 L402.07 341.78 L403.28 341.83 L404.49 342.28 L405.69 343.13 L406.90 345.31 L406.90 345.31 L405.69 347.82 L404.49 348.04 L403.28 348.10 L402.07 348.07 L400.86 348.00 L399.66 348.24 L398.45 348.11 L397.24 348.17 L396.04 348.52 L394.83 348.58 L393.62 348.67 L392.41 348.21 L391.21 347.31 L390.00 345.18Z" fill="#0a0a0a" opacity="1" stroke="#0a0a0a" stroke-width="0.3" stroke-linejoin="round" transform="rotate(0 398.4 345.1)" filter="url(#b2)"/>
<path d="M268.60 498.01 L269.83 497.30 L271.05 496.90 L272.28 496.76 L273.50 496.76 L274.73 496.76 L275.95 496.75 L277.18 496.64 L278.40 496.52 L279.62 496.59 L280.85 496.71 L282.07 496.74 L283.30 496.77 L284.52 496.79 L285.75 496.88 L286.97 497.19 L288.20 498.01 L288.20 498.01 L286.97 498.58 L285.75 498.81 L284.52 499.08 L283.30 499.10 L282.07 499.14 L280.85 499.07 L279.62 498.84 L278.40 498.98 L277.18 499.26 L275.95 499.24 L274.73 499.22 L273.50 499.14 L272.28 498.91 L271.05 498.91 L269.83 498.84 L268.60 498.01Z" fill="#0a0a0a" opacity="1" stroke="#0a0a0a" stroke-width="0.3" stroke-linejoin="round" transform="rotate(-1 278.4 497.9)" filter="url(#b2)"/>
<path d="M291.70 498.14 L292.94 496.47 L294.17 496.22 L295.41 496.21 L296.64 495.91 L297.88 495.51 L299.11 495.41 L300.35 495.38 L301.58 495.37 L302.82 495.48 L304.05 495.44 L305.29 495.23 L306.52 495.35 L307.76 495.72 L308.99 495.99 L310.23 496.32 L311.46 496.79 L312.70 498.27 L312.70 498.27 L311.46 500.11 L310.23 500.46 L308.99 500.62 L307.76 500.76 L306.52 500.70 L305.29 500.71 L304.05 500.86 L302.82 500.87 L301.58 500.83 L300.35 500.92 L299.11 500.91 L297.88 500.83 L296.64 500.87 L295.41 500.79 L294.17 500.41 L292.94 499.86 L291.70 498.14Z" fill="#0a0a0a" opacity="1" stroke="#0a0a0a" stroke-width="0.3" stroke-linejoin="round" transform="rotate(0 302.2 498.2)" filter="url(#b2)"/>
<path d="M315.00 497.46 L316.27 496.50 L317.55 496.40 L318.82 496.13 L320.10 495.76 L321.38 495.73 L322.65 495.60 L323.93 495.45 L325.20 495.56 L326.47 495.47 L327.75 495.37 L329.02 495.68 L330.30 495.89 L331.57 496.01 L332.85 496.37 L334.12 496.63 L335.40 497.59 L335.40 497.59 L334.12 498.88 L332.85 499.19 L331.57 499.14 L330.30 499.05 L329.02 499.21 L327.75 499.32 L326.47 499.29 L325.20 499.31 L323.93 499.31 L322.65 499.40 L321.38 499.68 L320.10 499.71 L318.82 499.43 L317.55 499.10 L316.27 498.58 L315.00 497.46Z" fill="#0a0a0a" opacity="1" stroke="#0a0a0a" stroke-width="0.3" stroke-linejoin="round" transform="rotate(0 325.2 497.6)" filter="url(#b2)"/>
<path d="M340.30 496.87 L341.57 495.89 L342.85 495.64 L344.12 495.56 L345.40 495.55 L346.68 495.54 L347.95 495.57 L349.23 495.56 L350.50 495.46 L351.77 495.34 L353.05 495.26 L354.32 495.20 L355.60 495.26 L356.88 495.40 L358.15 495.59 L359.43 495.98 L360.70 496.96 L360.70 496.96 L359.43 497.73 L358.15 497.88 L356.88 498.05 L355.60 498.37 L354.32 498.48 L353.05 498.32 L351.77 498.23 L350.50 498.21 L349.23 498.29 L347.95 498.49 L346.68 498.44 L345.40 498.18 L344.12 498.06 L342.85 497.95 L341.57 497.73 L340.30 496.87Z" fill="#0a0a0a" opacity="1" stroke="#0a0a0a" stroke-width="0.3" stroke-linejoin="round" transform="rotate(0 350.5 496.9)" filter="url(#b2)"/>
<path d="M364.50 497.17 L365.70 496.09 L366.90 495.76 L368.10 495.77 L369.30 495.78 L370.50 495.66 L371.70 495.57 L372.90 495.50 L374.10 495.39 L375.30 495.41 L376.50 495.62 L377.70 495.78 L378.90 495.77 L380.10 495.79 L381.30 495.89 L382.50 495.99 L383.70 496.11 L384.90 496.37 L386.10 496.63 L387.30 497.05 L387.30 497.05 L386.10 497.69 L384.90 497.80 L383.70 497.84 L382.50 497.99 L381.30 498.16 L380.10 498.25 L378.90 498.30 L377.70 498.31 L376.50 498.19 L375.30 498.10 L374.10 498.25 L372.90 498.50 L371.70 498.61 L370.50 498.58 L369.30 498.52 L368.10 498.34 L366.90 498.12 L365.70 497.95 L364.50 497.17Z" fill="#0a0a0a" opacity="1" stroke="#0a0a0a" stroke-width="0.3" stroke-linejoin="round" transform="rotate(3 375.9 497.0)" filter="url(#b2)"/>
<path d="M391.40 498.38 L392.61 497.74 L393.81 497.64 L395.02 497.47 L396.22 497.16 L397.43 497.15 L398.64 497.35 L399.84 497.43 L401.05 497.55 L402.25 497.62 L403.46 497.41 L404.66 497.31 L405.87 497.49 L407.08 497.54 L408.28 497.48 L409.49 497.57 L410.69 497.65 L411.90 498.27 L411.90 498.27 L410.69 499.00 L409.49 499.27 L408.28 499.28 L407.08 499.36 L405.87 499.47 L404.66 499.43 L403.46 499.53 L402.25 499.71 L401.05 499.65 L399.84 499.57 L398.64 499.64 L397.43 499.55 L396.22 499.42 L395.02 499.43 L393.81 499.26 L392.61 498.92 L391.40 498.38Z" fill="#0a0a0a" opacity="1" stroke="#0a0a0a" stroke-width="0.3" stroke-linejoin="round" transform="rotate(3 401.6 498.4)" filter="url(#b2)"/>
<path d="M271.30 514.46 L272.52 513.78 L273.74 513.60 L274.96 513.28 L276.18 513.11 L277.39 513.27 L278.61 513.41 L279.83 513.54 L281.05 513.62 L282.27 513.45 L283.49 513.36 L284.71 513.51 L285.93 513.53 L287.14 513.47 L288.36 513.50 L289.58 513.57 L290.80 514.28 L290.80 514.28 L289.58 514.90 L288.36 515.25 L287.14 515.50 L285.93 515.65 L284.71 515.65 L283.49 515.49 L282.27 515.49 L281.05 515.63 L279.83 515.63 L278.61 515.54 L277.39 515.40 L276.18 515.24 L274.96 515.28 L273.74 515.36 L272.52 515.14 L271.30 514.46Z" fill="#0a0a0a" opacity="1" stroke="#0a0a0a" stroke-width="0.3" stroke-linejoin="round" transform="rotate(0 281.1 514.5)" filter="url(#b2)"/>
<path d="M295.30 513.96 L296.54 513.00 L297.77 512.59 L299.01 512.37 L300.24 512.39 L301.48 512.30 L302.71 512.10 L303.95 511.96 L305.18 511.78 L306.42 511.70 L307.65 511.91 L308.89 512.11 L310.12 512.13 L311.36 512.21 L312.59 512.39 L313.83 512.62 L315.06 513.03 L316.30 513.98 L316.30 513.98 L315.06 514.97 L313.83 515.30 L312.59 515.35 L311.36 515.50 L310.12 515.88 L308.89 515.99 L307.65 515.84 L306.42 515.78 L305.18 515.66 L303.95 515.57 L302.71 515.76 L301.48 515.81 L300.24 515.53 L299.01 515.32 L297.77 515.20 L296.54 514.91 L295.30 513.96Z" fill="#0a0a0a" opacity="1" stroke="#0a0a0a" stroke-width="0.3" stroke-linejoin="round" transform="rotate(0 305.8 513.9)" filter="url(#b2)"/>
<path d="M319.40 512.77 L320.65 511.90 L321.91 511.59 L323.16 511.58 L324.41 511.32 L325.67 511.08 L326.92 511.27 L328.17 511.37 L329.43 511.52 L330.68 511.63 L331.93 511.37 L333.19 511.40 L334.44 511.64 L335.69 511.68 L336.95 511.92 L338.20 512.72 L338.20 512.72 L336.95 513.60 L335.69 513.78 L334.44 514.10 L333.19 514.31 L331.93 514.35 L330.68 514.57 L329.43 514.57 L328.17 514.48 L326.92 514.53 L325.67 514.30 L324.41 514.09 L323.16 514.05 L321.91 513.80 L320.65 513.60 L319.40 512.77Z" fill="#0a0a0a" opacity="1" stroke="#0a0a0a" stroke-width="0.3" stroke-linejoin="round" transform="rotate(0 328.8 512.9)" filter="url(#b2)"/>
<path d="M343.70 512.28 L344.96 511.38 L346.22 511.25 L347.48 511.14 L348.74 511.05 L350.00 511.09 L351.26 510.95 L352.52 510.79 L353.78 510.78 L355.04 510.68 L356.30 510.72 L357.56 510.87 L358.82 510.91 L360.08 511.19 L361.34 511.59 L362.60 512.45 L362.60 512.45 L361.34 513.35 L360.08 513.57 L358.82 513.51 L357.56 513.67 L356.30 513.73 L355.04 513.81 L353.78 514.13 L352.52 514.12 L351.26 514.08 L350.00 514.17 L348.74 513.97 L347.48 513.82 L346.22 513.62 L344.96 513.09 L343.70 512.28Z" fill="#0a0a0a" opacity="1" stroke="#0a0a0a" stroke-width="0.3" stroke-linejoin="round" transform="rotate(-3 353.1 512.4)" filter="url(#b2)"/>
<path d="M368.70 512.23 L369.96 511.49 L371.21 511.38 L372.47 511.32 L373.73 511.23 L374.98 511.26 L376.24 511.25 L377.49 511.16 L378.75 511.18 L380.01 511.19 L381.26 511.10 L382.52 511.13 L383.77 511.18 L385.03 511.18 L386.29 511.39 L387.54 511.66 L388.80 512.25 L388.80 512.25 L387.54 512.95 L386.29 513.08 L385.03 512.96 L383.77 513.14 L382.52 513.46 L381.26 513.55 L380.01 513.66 L378.75 513.64 L377.49 513.43 L376.24 513.52 L374.98 513.63 L373.73 513.41 L372.47 513.20 L371.21 512.98 L369.96 512.67 L368.70 512.23Z" fill="#0a0a0a" opacity="1" stroke="#0a0a0a" stroke-width="0.3" stroke-linejoin="round" transform="rotate(0 378.8 512.3)" filter="url(#b2)"/>
<path d="M394.80 512.15 L396.02 511.65 L397.24 511.46 L398.46 511.21 L399.68 510.98 L400.91 510.95 L402.13 511.06 L403.35 511.15 L404.57 511.21 L405.79 511.30 L407.01 511.29 L408.23 511.21 L409.45 511.26 L410.67 511.38 L411.89 511.38 L413.12 511.31 L414.34 511.30 L415.56 511.31 L416.78 511.39 L418.00 512.03 L418.00 512.03 L416.78 512.56 L415.56 512.87 L414.34 513.10 L413.12 513.20 L411.89 513.23 L410.67 513.18 L409.45 513.13 L408.23 513.19 L407.01 513.35 L405.79 513.44 L404.57 513.40 L403.35 513.28 L402.13 513.15 L400.91 513.05 L399.68 513.04 L398.46 513.08 L397.24 513.02 L396.02 512.76 L394.80 512.15Z" fill="#0a0a0a" opacity="1" stroke="#0a0a0a" stroke-width="0.3" stroke-linejoin="round" transform="rotate(-2 406.4 512.2)" filter="url(#b2)"/>
<path d="M267.80 527.19 L269.01 525.40 L270.22 524.78 L271.43 524.23 L272.64 524.07 L273.86 524.24 L275.07 524.27 L276.28 524.35 L277.49 524.60 L278.70 524.63 L279.91 524.47 L281.12 524.57 L282.33 524.68 L283.54 524.51 L284.76 524.41 L285.97 524.53 L287.18 524.61 L288.39 525.02 L289.60 527.17 L289.60 527.17 L288.39 528.98 L287.18 529.69 L285.97 530.19 L284.76 530.42 L283.54 530.50 L282.33 530.41 L281.12 530.23 L279.91 530.24 L278.70 530.44 L277.49 530.51 L276.28 530.41 L275.07 530.27 L273.86 530.10 L272.64 529.98 L271.43 530.01 L270.22 529.96 L269.01 529.39 L267.80 527.19Z" fill="#0a0a0a" opacity="1" stroke="#0a0a0a" stroke-width="0.3" stroke-linejoin="round" transform="rotate(0 278.7 527.4)" filter="url(#b2)"/>
<path d="M295.00 528.52 L296.24 526.25 L297.48 525.55 L298.72 525.63 L299.96 525.52 L301.20 525.39 L302.44 525.39 L303.68 525.04 L304.92 525.06 L306.16 525.29 L307.40 525.11 L308.64 525.19 L309.88 525.37 L311.12 525.54 L312.36 526.40 L313.60 528.56 L313.60 528.56 L312.36 530.44 L311.12 530.90 L309.88 531.29 L308.64 531.19 L307.40 531.23 L306.16 531.33 L304.92 531.17 L303.68 531.38 L302.44 531.49 L301.20 531.33 L299.96 531.43 L298.72 531.28 L297.48 530.90 L296.24 530.55 L295.00 528.52Z" fill="#0a0a0a" opacity="1" stroke="#0a0a0a" stroke-width="0.3" stroke-linejoin="round" transform="rotate(0 304.3 528.3)" filter="url(#b2)"/>
<path d="M317.60 527.37 L318.86 525.86 L320.12 525.56 L321.38 525.08 L322.64 524.78 L323.89 524.74 L325.15 524.48 L326.41 524.38 L327.67 524.61 L328.93 524.60 L330.19 524.53 L331.45 524.81 L332.71 524.98 L333.96 524.98 L335.22 525.28 L336.48 525.56 L337.74 525.73 L339.00 527.35 L339.00 527.35 L337.74 529.26 L336.48 530.04 L335.22 530.34 L333.96 530.14 L332.71 529.98 L331.45 529.94 L330.19 529.87 L328.93 529.93 L327.67 529.97 L326.41 529.74 L325.15 529.64 L323.89 529.89 L322.64 530.10 L321.38 530.15 L320.12 530.03 L318.86 529.35 L317.60 527.37Z" fill="#0a0a0a" opacity="1" stroke="#0a0a0a" stroke-width="0.3" stroke-linejoin="round" transform="rotate(0 328.3 527.4)" filter="url(#b2)"/>
<path d="M343.70 527.47 L344.96 525.50 L346.22 524.94 L347.48 524.42 L348.74 523.97 L350.00 524.00 L351.26 524.30 L352.52 524.43 L353.78 524.42 L355.04 524.32 L356.30 524.38 L357.56 524.72 L358.82 524.88 L360.08 524.86 L361.34 525.15 L362.60 527.12 L362.60 527.12 L361.34 529.16 L360.08 529.96 L358.82 530.42 L357.56 530.53 L356.30 530.33 L355.04 530.15 L353.78 530.29 L352.52 530.38 L351.26 530.22 L350.00 529.98 L348.74 529.80 L347.48 529.91 L346.22 530.05 L344.96 529.57 L343.70 527.47Z" fill="#0a0a0a" opacity="1" stroke="#0a0a0a" stroke-width="0.3" stroke-linejoin="round" transform="rotate(0 353.1 527.3)" filter="url(#b2)"/>
<path d="M367.40 526.18 L368.62 524.38 L369.85 523.99 L371.07 523.67 L372.29 523.54 L373.52 523.55 L374.74 523.37 L375.96 523.17 L377.19 523.15 L378.41 523.10 L379.64 523.10 L380.86 523.31 L382.08 523.44 L383.31 523.44 L384.53 523.65 L385.75 524.00 L386.98 524.45 L388.20 526.08 L388.20 526.08 L386.98 527.92 L385.75 528.36 L384.53 528.45 L383.31 528.78 L382.08 529.02 L380.86 528.84 L379.64 528.66 L378.41 528.52 L377.19 528.26 L375.96 528.31 L374.74 528.62 L373.52 528.59 L372.29 528.44 L371.07 528.46 L369.85 528.28 L368.62 527.84 L367.40 526.18Z" fill="#0a0a0a" opacity="1" stroke="#0a0a0a" stroke-width="0.3" stroke-linejoin="round" transform="rotate(0 377.8 526.0)" filter="url(#b2)"/>
<path d="M392.00 525.68 L393.22 524.15 L394.45 523.73 L395.67 523.29 L396.89 523.14 L398.12 523.32 L399.34 523.55 L400.56 523.72 L401.79 523.74 L403.01 523.47 L404.24 523.24 L405.46 523.30 L406.68 523.41 L407.91 523.40 L409.13 523.41 L410.35 523.49 L411.58 523.87 L412.80 525.76 L412.80 525.76 L411.58 527.21 L410.35 527.75 L409.13 528.03 L407.91 528.35 L406.68 528.46 L405.46 528.22 L404.24 528.24 L403.01 528.55 L401.79 528.64 L400.56 528.62 L399.34 528.55 L398.12 528.19 L396.89 527.92 L395.67 528.03 L394.45 527.96 L393.22 527.41 L392.00 525.68Z" fill="#0a0a0a" opacity="1" stroke="#0a0a0a" stroke-width="0.3" stroke-linejoin="round" transform="rotate(0 402.4 525.9)" filter="url(#b2)"/>
</g>
</svg>
</body></html>
